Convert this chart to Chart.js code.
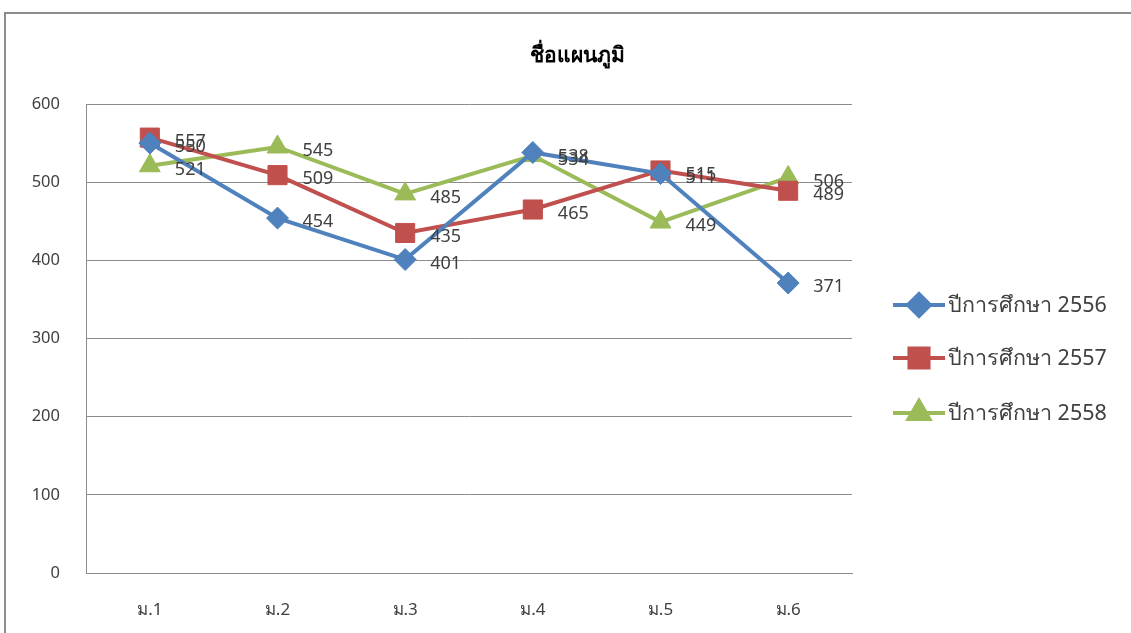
<!DOCTYPE html>
<html>
<head>
<meta charset="utf-8">
<script src="https://cdn.jsdelivr.net/npm/chart.js@4"></script>
<style>
    html, body { margin: 0; padding: 0; background: #fff; }
    #wrap { position: relative; width: 1131px; height: 633px; }
</style>
</head>
<body>
<div id="wrap"><canvas id="chartPlan" width="1131" height="633"></canvas></div>
<script>
const labels = ['ม.1', 'ม.2', 'ม.3', 'ม.4', 'ม.5', 'ม.6'];
const seriesNames = ['ปีการศึกษา 2556', 'ปีการศึกษา 2557', 'ปีการศึกษา 2558'];
const data2556 = [550, 454, 401, 538, 511, 371];
const data2557 = [557, 509, 435, 465, 515, 489];
const data2558 = [521, 545, 485, 534, 449, 506];
const yTicks = [0, 100, 200, 300, 400, 500, 600];
const chartTitle = 'ชื่อแผนภูมิ';

const textColor = '#404040';
const fontFamily = "Tahoma, 'Noto Sans', 'DejaVu Sans', sans-serif";

// กรอบ พื้นหลัง ชื่อแผนภูมิ ป้ายค่า และคำอธิบาย
const decorPlugin = {
    id: 'decor',
    beforeDraw(chart) {
        const ctx = chart.ctx;
        ctx.save();
        ctx.fillStyle = '#fff';
        ctx.fillRect(0, 0, chart.width, chart.height);
        ctx.strokeStyle = '#8c8c8c';
        ctx.lineWidth = 2;
        ctx.beginPath();
        ctx.moveTo(5, chart.height);
        ctx.lineTo(5, 13);
        ctx.lineTo(chart.width, 13);
        ctx.stroke();
        ctx.restore();
    },
    afterDraw(chart) {
        const ctx = chart.ctx;
        ctx.save();
        // title
        ctx.fillStyle = '#000';
        ctx.font = 'bold 21px ' + fontFamily;
        ctx.textAlign = 'center';
        ctx.textBaseline = 'middle';
        ctx.fillText(chartTitle, 577, 56);

        // data labels
        ctx.font = '18px ' + fontFamily;
        ctx.fillStyle = textColor;
        ctx.textAlign = 'left';
        chart.data.datasets.forEach((ds, i) => {
            const meta = chart.getDatasetMeta(i);
            meta.data.forEach((pt, j) => {
                ctx.fillText(String(ds.data[j]), pt.x + 25, pt.y + 4);
            });
        });

        // legend
        ctx.font = '21.5px ' + fontFamily;
        const legendY = [305, 358, 413];
        chart.data.datasets.forEach((ds, i) => {
            const y = legendY[i];
            ctx.strokeStyle = ds.borderColor;
            ctx.lineWidth = 4;
            ctx.beginPath();
            ctx.moveTo(893, y);
            ctx.lineTo(945, y);
            ctx.stroke();
            ctx.fillStyle = ds.backgroundColor;
            Chart.helpers.drawPoint(ctx, {
                pointStyle: ds.pointStyle,
                radius: ds.pointRadius,
                borderWidth: 1
            }, 919, y);
            ctx.fillStyle = textColor;
            ctx.textAlign = 'left';
            ctx.textBaseline = 'middle';
            ctx.fillText(seriesNames[i], 948, y + 1);
        });
        ctx.restore();
    }
};

function makeDataset(name, values, color, style, radius) {
    return {
        label: name,
        data: values,
        borderColor: color,
        backgroundColor: color,
        borderWidth: 4,
        pointStyle: style,
        pointRadius: radius,
        pointHoverRadius: radius,
        pointBackgroundColor: color,
        pointBorderColor: color,
        pointBorderWidth: 1,
        tension: 0,
        fill: false
    };
}

const ctx = document.getElementById('chartPlan').getContext('2d');
const myChart = new Chart(ctx, {
    type: 'line',
    data: {
        labels: labels,
        datasets: [
            makeDataset(seriesNames[0], data2556, '#4f81bd', 'rectRot', 11),
            makeDataset(seriesNames[1], data2557, '#c0504d', 'rect', 13.5),
            makeDataset(seriesNames[2], data2558, '#9bbb59', 'triangle', 12)
        ]
    },
    options: {
        responsive: false,
        animation: false,
        devicePixelRatio: 1,
        layout: { padding: { top: 104, right: 279, left: 0, bottom: 0 } },
        plugins: {
            legend: { display: false },
            title: { display: false },
            tooltip: { enabled: false }
        },
        scales: {
            x: {
                offset: true,
                grid: { display: false, drawTicks: false },
                border: { display: true, color: '#8c8c8c', width: 1 },
                ticks: { color: textColor, font: { size: 17, family: fontFamily }, padding: 27 },
                afterFit: (scale) => { scale.height = 60; }
            },
            y: {
                min: 0,
                max: 600,
                afterBuildTicks: (scale) => { scale.ticks = yTicks.map(v => ({ value: v })); },
                grid: { color: '#8c8c8c', drawTicks: false, lineWidth: 1 },
                border: { display: true, color: '#8c8c8c', width: 1 },
                ticks: { color: textColor, font: { size: 16.5, family: fontFamily }, padding: 26 },
                afterFit: (scale) => { scale.width = 86; }
            }
        }
    },
    plugins: [decorPlugin]
});
</script>
</body>
</html>
